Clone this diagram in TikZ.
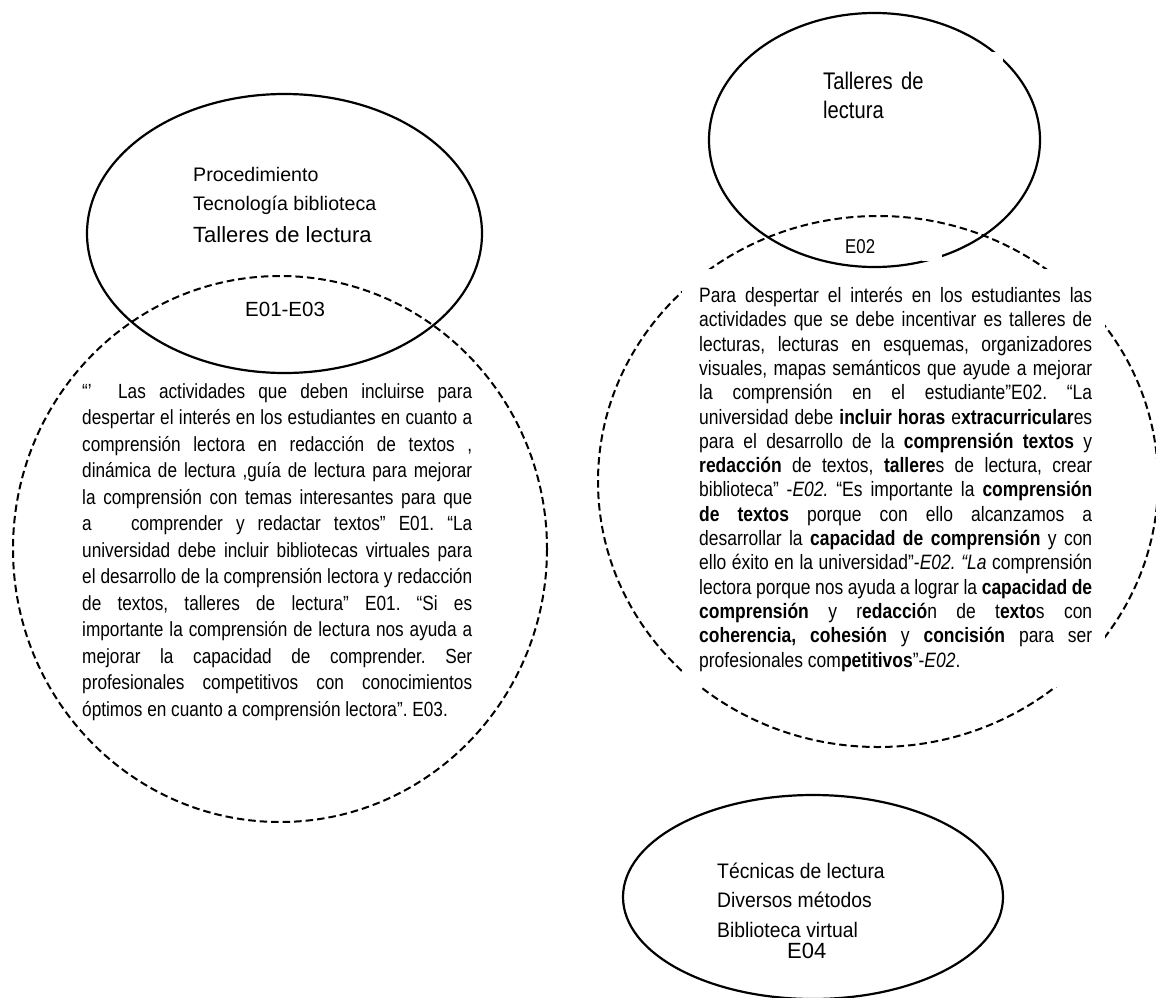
\documentclass[tikz,border=0pt]{standalone}
\usepackage{fontspec}
\setmainfont{Liberation Sans}
\newfontfamily\narrowf[FakeStretch=0.84]{Liberation Sans}
\newfontfamily\semif[FakeStretch=0.92]{Liberation Sans}
\hbadness=10000
\hfuzz=8pt
\frenchspacing
\begin{document}
\begin{tikzpicture}[x=1pt,y=-1pt,
  solidring/.style={draw=black,line width=2.2pt},
  dashring/.style={draw=black,line width=2pt,dash pattern=on 7.5pt off 4pt},
  bodytext/.style={inner sep=0pt,anchor=north west,align=justify},
  lbl/.style={inner sep=0pt,anchor=base west},
  cover/.style={fill=white}]
\useasboundingbox (0,0) rectangle (1156,998);
\fill[white] (0,0) rectangle (1156,998);

% centres
\coordinate (lecen) at (284.5,233.5);
\coordinate (ldcen) at (280,549);
\coordinate (recen) at (874.5,140);
\coordinate (rdcen) at (878,481.5);
\coordinate (becen) at (813,897);

% left group
\draw[dashring] (ldcen) ellipse [x radius=267, y radius=273];
\draw[solidring] (lecen) ellipse [x radius=197.5, y radius=139.5];

\node[lbl,font=\fontsize{19.6}{24}\selectfont] (lh1) at (193,181) {Procedimiento};
\node[lbl,font=\fontsize{19.6}{24}\selectfont] (lh2) at (193,210) {Tecnología biblioteca};
\node[lbl,font=\fontsize{22}{26}\selectfont] (lh3) at (193,242) {Talleres de lectura};
\node[lbl,font=\fontsize{20.5}{24}\selectfont] (lcode) at (245,316) {E01-E03};

\node[bodytext,text width=390pt,font=\narrowf\fontsize{20.5}{26.5}\selectfont] (lbody) at (82,383) {\noindent
“’\ \ Las actividades que deben incluirse para\linebreak
despertar el interés en los estudiantes en cuanto a\linebreak
comprensión lectora en redacción de textos ,\linebreak
dinámica de lectura ,guía de lectura para mejorar\linebreak
la comprensión con temas interesantes para que\linebreak
a \ \ comprender y redactar textos” E01. “La\linebreak
universidad debe incluir bibliotecas virtuales para\linebreak
el desarrollo de la comprensión lectora y redacción\linebreak
de textos, talleres de lectura” E01. “Si es\linebreak
importante la comprensión de lectura nos ayuda a\linebreak
mejorar la capacidad de comprender. Ser\linebreak
profesionales competitivos con conocimientos\linebreak
óptimos en cuanto a comprensión lectora”. E03.};

% right group
\draw[dashring] (rdcen) ellipse [x radius=280, y radius=265.5];
\draw[solidring] (recen) ellipse [x radius=165.5, y radius=127];
\fill[cover] (815,52) rectangle (1003,130);
\fill[cover] (922,228) rectangle (942,261);
\fill[cover] (682,269) rectangle (1105,687);

\node[lbl,font=\narrowf\fontsize{24}{29}\selectfont] (rh1) at (823,89) {Talleres\hspace{0.35em}de};
\node[lbl,font=\narrowf\fontsize{24}{29}\selectfont] (rh2) at (823,118) {lectura};
\node[lbl,font=\narrowf\fontsize{20}{24}\selectfont] (rcode) at (845,253) {E02};

\node[bodytext,text width=393pt,font=\narrowf\fontsize{20.8}{24.3}\selectfont] (rbody) at (699,287) {\noindent
Para despertar el interés en los estudiantes las\linebreak
actividades que se debe incentivar es talleres de\linebreak
lecturas, lecturas en esquemas, organizadores\linebreak
visuales, mapas semánticos que ayude a mejorar\linebreak
la comprensión en el estudiante”E02. “La\linebreak
universidad debe \textbf{incluir horas} e\textbf{xtracurricular}es\linebreak
para el desarrollo de la \textbf{comprensión textos} y\linebreak
\textbf{redacción} de textos, \textbf{tallere}s de lectura, crear\linebreak
biblioteca” -\textit{E02.} “Es importante la \textbf{comprensión}\linebreak
\textbf{de textos} porque con ello alcanzamos a\linebreak
desarrollar la \textbf{capacidad de comprensión} y con\linebreak
ello éxito en la universidad”-\textit{E02. “La} comprensión\linebreak
lectora porque nos ayuda a lograr la \textbf{capacidad de}\linebreak
\textbf{comprensión} y r\textbf{edacció}n de t\textbf{exto}s con\linebreak
\textbf{coherencia, cohesión} y \textbf{concisión} para ser\linebreak
profesionales com\textbf{petitivos}”-\textit{E02}.};

% bottom group
\draw[solidring] (becen) ellipse [x radius=190, y radius=102];
\node[lbl,font=\semif\fontsize{21}{26}\selectfont] (bh1) at (717,878) {Técnicas de lectura};
\node[lbl,font=\semif\fontsize{21}{26}\selectfont] (bh2) at (717,907) {Diversos métodos};
\node[lbl,font=\semif\fontsize{21}{26}\selectfont] (bh3) at (717,937) {Biblioteca virtual};
\node[lbl,font=\fontsize{22}{26}\selectfont] (bcode) at (787,958) {E04};
\end{tikzpicture}
\end{document}
